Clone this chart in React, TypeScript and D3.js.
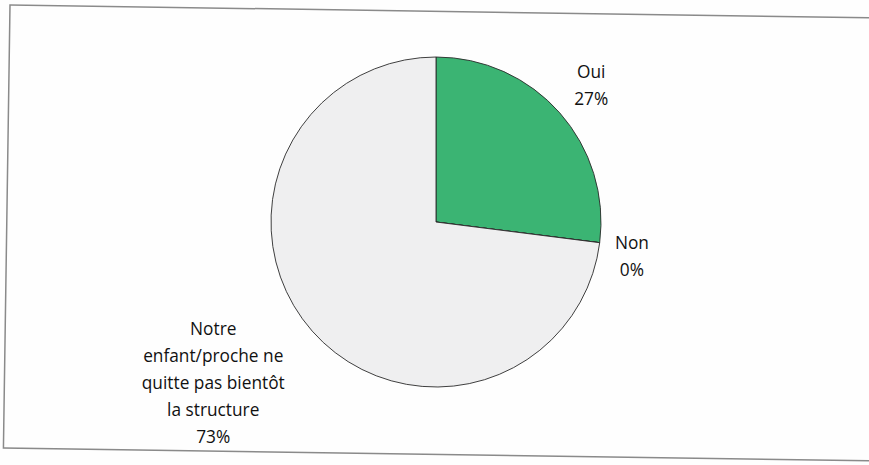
import React from "react";
import * as d3 from "d3";

const categories = ["Oui", "Non", "Notre enfant/proche ne quitte pas bientôt la structure"];
const values = [27, 0, 73];
const labelLines = [["Oui"], ["Non"], ["Notre", "enfant/proche ne", "quitte pas bientôt", "la structure"]];
const percentLabels = ["27%", "0%", "73%"];
const colors = ["#3bb473", "#efeff0", "#efeff0"];

const W = 869;
const H = 465;
const cx = 436;
const cy = 222;
const R = 165;

export default function App() {
  const pie = d3.pie<number>().sort(null).value((d) => d);
  const arcs = pie(values);
  const arc = d3.arc<d3.PieArcDatum<number>>().innerRadius(0).outerRadius(R);
  const font = "Open Sans, sans-serif";
  const fs = 17.3;
  const lh = 27;
  // label anchor = slice mid-angle at a label radius
  const labelRadius = [207, 199, 275];
  const labelAngleShift = [0, 0.05, 0.096];
  return (
    <svg width={W} height={H} style={{ position: "absolute", left: 0, top: 0, background: "#fff" }}>
      <rect x={0} y={0} width={W} height={H} fill="#fefefe" />
      <g transform="rotate(0.85 10 5)">
        <rect x={10} y={5} width={900} height={443} fill="none" stroke="#8a8a8a" strokeWidth={1.5} />
      </g>
      <g transform={`translate(${cx},${cy})`}>
        {arcs.map((a, i) => (
          <path key={categories[i]} d={arc(a) || ""} fill={colors[i]} stroke="#2a2a2a" strokeWidth={0.9} />
        ))}
        {arcs.map((a, i) => {
          const mid = (a.startAngle + a.endAngle) / 2 + labelAngleShift[i];
          const r = labelRadius[i];
          const x = Math.sin(mid) * r;
          const y = -Math.cos(mid) * r;
          const lines = [...labelLines[i], percentLabels[i]];
          const y0 = y - ((lines.length - 1) * lh) / 2;
          return (
            <text key={"l" + i} fontFamily={font} fontSize={fs} fill="#111" textAnchor="middle">
              {lines.map((ln, j) => (
                <tspan key={j} x={x} y={y0 + j * lh} dy="0.35em">{ln}</tspan>
              ))}
            </text>
          );
        })}
      </g>
    </svg>
  );
}
